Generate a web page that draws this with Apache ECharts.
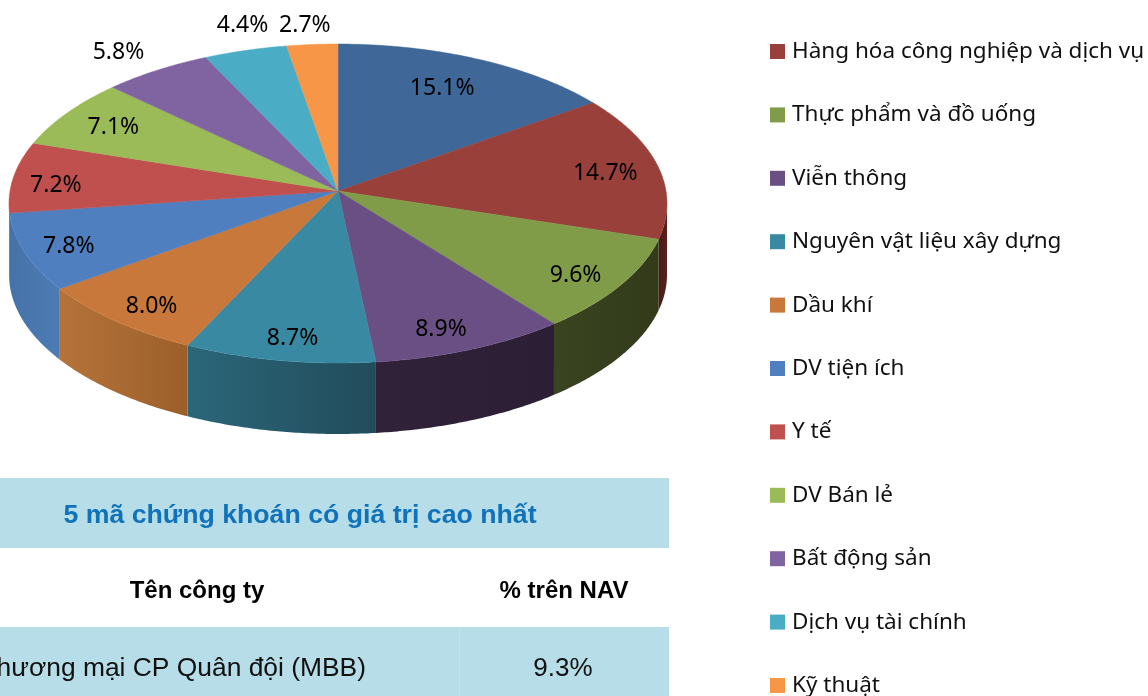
<!DOCTYPE html>
<html>
<head>
<meta charset="utf-8">
<title>Phân bổ ngành</title>
<style>
html,body{margin:0;padding:0;background:#fff;overflow:hidden}
#main{width:1148px;height:696px}
</style>
<script src="https://cdn.jsdelivr.net/npm/echarts@6/dist/echarts.min.js"></script>
</head>
<body>
<div id="main"></div>
<script>
// the first slice has no readable legend entry in the picture
var categories = ['', 'Hàng hóa công nghiệp và dịch vụ', 'Thực phẩm và đồ uống', 'Viễn thông',
    'Nguyên vật liệu xây dựng', 'Dầu khí', 'DV tiện ích', 'Y tế', 'DV Bán lẻ', 'Bất động sản',
    'Dịch vụ tài chính', 'Kỹ thuật'];
var values = [15.1, 14.7, 9.6, 8.9, 8.7, 8.0, 7.8, 7.2, 7.1, 5.8, 4.4, 2.7];
var labels = ['15.1%', '14.7%', '9.6%', '8.9%', '8.7%', '8.0%', '7.8%', '7.2%', '7.1%', '5.8%', '4.4%', '2.7%'];

var tableTitle = '5 mã chứng khoán có giá trị cao nhất';
var tableHead = ['Tên công ty', '% trên NAV'];
var tableRow = ['Thương mại CP Quân đội (MBB)', '9.3%'];

// colours
var topColors = ['#3f6797', '#9a403b', '#819c49', '#6a4f85', '#3a89a3', '#c8783a',
    '#4f7fbf', '#bf504e', '#9bbb59', '#8064a2', '#4bacc6', '#f79646'];
var wallColors = [['#3f6797', '#3f6797'], ['#4a1a18', '#5a201c'], ['#3a4420', '#323a1a'], ['#2f2239', '#2c1f35'],
    ['#2b6679', '#214c5b'], ['#b5733a', '#9c5f2a'], ['#4573a8', '#4d7bb4'], ['#8a3a38', '#8a3a38'],
    ['#9bbb59', '#9bbb59'], ['#8064a2', '#8064a2'], ['#4bacc6', '#4bacc6'], ['#f79646', '#f79646']];

// where each percent label sits, relative to its spot at 0.85 of the radius
var labelShift = [[-16, 11], [-5, 4], [-1, 5], [-9, 5], [4, 5], [1, 6], [-4, 4], [-6, 6], [7, 3], [-64, -35], [-16, -45], [-11, -40]];

// tilted pie geometry
var hubX = 338, hubY = 191;
var radX = 328, radY = 158.5, persp = 0.0784, depth = 71;
var total = 0;
values.forEach(function (v) { total += v; });

function project(deg, r) {
    var a = deg * Math.PI / 180;
    var sx = Math.sin(a) * r, cz = Math.cos(a) * r;
    var k = 1 + persp * cz;
    return [hubX + radX * sx / k, hubY - radY * cz / k];
}

function arc(from, to, dy) {
    var pts = [], n = Math.max(2, Math.ceil((to - from) / 0.5));
    for (var i = 0; i <= n; i++) {
        var p = project(from + (to - from) * i / n, 1);
        pts.push([p[0], p[1] + dy]);
    }
    return pts;
}

function renderSlice(params, api) {
    var idx = params.seriesIndex;
    var before = 0;
    for (var i = 0; i < idx; i++) before += values[i];
    var start = before / total * 360;
    var end = start + api.value(0) / total * 360;
    var kids = [];

    // side wall, only the part that faces the viewer
    var wallFrom = Math.max(start, 94.5), wallTo = Math.min(end, 265.5);
    if (wallTo > wallFrom) {
        kids.push({
            type: 'polygon',
            z2: 1,
            shape: { points: arc(wallFrom, wallTo, 0).concat(arc(wallFrom, wallTo, depth).reverse()) },
            style: {
                fill: new echarts.graphic.LinearGradient(0, 0, 1, 0, [
                    { offset: 0, color: wallColors[idx][0] },
                    { offset: 1, color: wallColors[idx][1] }
                ])
            }
        });
    }

    // top face
    kids.push({
        type: 'polygon',
        z2: 2,
        shape: { points: [[hubX, hubY]].concat(arc(start, end, 0)) },
        style: { fill: topColors[idx], stroke: topColors[idx], lineWidth: 0.5 }
    });

    var mid = project((start + end) / 2, 0.85);
    kids.push({
        type: 'text',
        z2: 3,
        x: mid[0] + labelShift[idx][0],
        y: mid[1] + labelShift[idx][1],
        style: {
            text: labels[idx],
            fill: '#000',
            font: '23px "Noto Sans"',
            align: 'center',
            verticalAlign: 'middle'
        }
    });
    return { type: 'group', children: kids };
}

var series = [];
for (var s = 0; s < values.length; s++) {
    series.push({
        type: 'custom',
        name: categories[s],
        coordinateSystem: 'none',
        renderItem: renderSlice,
        itemStyle: { color: topColors[s] },
        data: [[values[s]]],
        silent: true
    });
}

var tableBand = '#b7dde8';
var tableFont = '"Liberation Sans", Arial, sans-serif';

var myChart = echarts.init(document.getElementById('main'));
var option = {
    backgroundColor: '#fff',
    animation: false,
    legend: {
        orient: 'vertical',
        left: 765,
        top: 35,
        height: 720,
        icon: 'rect',
        itemWidth: 15,
        itemHeight: 15,
        itemGap: 40.4,
        selectedMode: false,
        data: categories.slice(1),
        textStyle: { color: '#111', fontSize: 22.5, lineHeight: 22, fontFamily: '"Noto Sans"', padding: [0, 0, 0, 2] }
    },
    graphic: [
        { type: 'rect', shape: { x: 0, y: 478, width: 669, height: 70 }, style: { fill: tableBand } },
        { type: 'rect', shape: { x: 0, y: 627, width: 669, height: 69 }, style: { fill: tableBand } },
        { type: 'rect', shape: { x: 459, y: 627, width: 1, height: 69 }, style: { fill: '#c4e3ec' } },
        { type: 'text', x: 300, y: 516, style: { text: tableTitle, fill: '#1072b8', font: 'bold 26.7px ' + tableFont, align: 'center', verticalAlign: 'middle' } },
        { type: 'text', x: 197, y: 591, style: { text: tableHead[0], fill: '#000', font: 'bold 24px ' + tableFont, align: 'center', verticalAlign: 'middle' } },
        { type: 'text', x: 564, y: 591, style: { text: tableHead[1], fill: '#000', font: 'bold 24px ' + tableFont, align: 'center', verticalAlign: 'middle' } },
        { type: 'text', x: 366, y: 669, style: { text: tableRow[0], fill: '#111', font: '26.4px ' + tableFont, align: 'right', verticalAlign: 'middle' } },
        { type: 'text', x: 563, y: 669, style: { text: tableRow[1], fill: '#111', font: '26px ' + tableFont, align: 'center', verticalAlign: 'middle' } }
    ],
    series: series
};
myChart.setOption(option);
</script>
</body>
</html>
